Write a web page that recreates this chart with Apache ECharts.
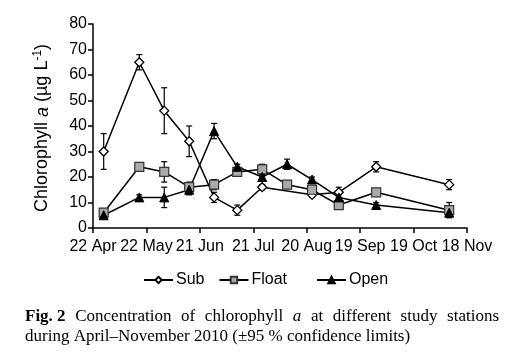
<!DOCTYPE html>
<html><head><meta charset="utf-8">
<script src="https://cdn.jsdelivr.net/npm/echarts@6/dist/echarts.min.js"></script>
<style>html,body{margin:0;padding:0;background:#fff}#c{width:516px;height:363px}</style>
</head><body><div id="c"></div>
<script>
// Days since 22 Apr 2010
const sampleDays = [6, 26, 40, 54, 68, 81, 95, 109, 123, 138, 159, 200];
const tickLabels = ['22 Apr','22 May','21 Jun','21 Jul','20 Aug','19 Sep','19 Oct','18 Nov'];
const subValues   = [30, 65, 46, 34, 12, 7, 16, null, 13, 14, 24, 17];
const subErr      = [7, 3, 9, 6, 2, 2, 1, null, 1, 2, 2, 2];
const floatValues = [6, 24, 22, 16, 17, 22, 23, 17, 15, 9, 14, 7];
const floatErr    = [1, 1, 4, 2, 2, 1, 2, 1, 1, 1, 1, 3];
const openValues  = [5, 12, 12, 15, 38, 24, 20, 25, 19, 12, 9, 6];
const openErr     = [1, 1, 4, 2, 3, 1, 1, 2, 1, 1, 1, 1];

const chart = echarts.init(document.getElementById('c'));
const FONT = '"Liberation Sans", Arial, sans-serif';

function pts(vals){ return sampleDays.map((d,i)=>[d, vals[i]]); }
function errData(vals, errs){
  const out=[];
  sampleDays.forEach((d,i)=>{ if(vals[i]!=null && errs[i]!=null) out.push([d, vals[i]-errs[i], vals[i]+errs[i]]); });
  return out;
}
function errSeries(vals, errs){
  return {
    type:'custom', silent:true, z:1,
    data: errData(vals, errs),
    renderItem(params, api){
      const x=api.value(0);
      const lo=api.coord([x, api.value(1)]);
      const hi=api.coord([x, api.value(2)]);
      const w=3;
      return {type:'group', children:[
        {type:'line', shape:{x1:lo[0],y1:lo[1],x2:hi[0],y2:hi[1]}, style:{stroke:'#000',lineWidth:1.2}},
        {type:'line', shape:{x1:lo[0]-w,y1:lo[1],x2:lo[0]+w,y2:lo[1]}, style:{stroke:'#000',lineWidth:1.2}},
        {type:'line', shape:{x1:hi[0]-w,y1:hi[1],x2:hi[0]+w,y2:hi[1]}, style:{stroke:'#000',lineWidth:1.2}}
      ]};
    }
  };
}

// justified caption
const cv=document.createElement('canvas').getContext('2d');
function measure(t,font){cv.font=font;return cv.measureText(t).width;}
const CAP_SIZE=17;
const serif='"Liberation Serif", "Times New Roman", serif';
const fReg=CAP_SIZE+'px '+serif, fBold='bold '+CAP_SIZE+'px '+serif, fIt='italic '+CAP_SIZE+'px '+serif;
const line1=[['Fig. 2',fBold],['Concentration',fReg],['of',fReg],['chlorophyll',fReg],['a',fIt],['at',fReg],['different',fReg],['study',fReg],['stations',fReg]];
const L1x0=25, L1x1=499;
const widths=line1.map(w=>measure(w[0],w[1]));
const total=widths.reduce((a,b)=>a+b,0);
const gap=(L1x1-L1x0-total)/(line1.length-1);
const graphics=[];
let cx=L1x0;
line1.forEach((w,i)=>{
  graphics.push({type:'text', x:cx, y:317, style:{text:w[0], font:w[1], fill:'#000', verticalAlign:'middle', align:'left'}});
  cx+=widths[i]+gap;
});
graphics.push({type:'text', x:25, y:337, style:{text:'during April\u2013November 2010 (\u00b195 % confidence limits)', font:fReg, fill:'#000', verticalAlign:'middle', align:'left'}});

const lineStyle={color:'#000', width:1.5};
const legText={fontFamily:FONT, fontSize:16, color:'#000', padding:[0,0,0,-2]};
chart.setOption({
  animation:false,
  backgroundColor:'#fff',
  grid:{left:93, right:49, top:24, bottom:135},
  legend:[
    {left:138, top:267, itemWidth:29, itemHeight:8, itemGap:14, data:['Sub','Float'], textStyle:legText},
    {left:311, top:267, itemWidth:29, itemHeight:8, data:['Open'], textStyle:legText}
  ],
  xAxis:{
    type:'value', min:0, max:210, interval:30,
    axisLine:{lineStyle:{color:'#000', width:1.5}},
    axisTick:{show:true, inside:false, length:5, lineStyle:{color:'#000', width:1.5}},
    splitLine:{show:false},
    axisLabel:{color:'#000', fontFamily:FONT, fontSize:16, margin:11,
      formatter:(v)=>tickLabels[Math.round(v/30)]}
  },
  yAxis:{
    type:'value', min:0, max:80, interval:10,
    axisLine:{show:true, lineStyle:{color:'#000', width:1.5}},
    axisTick:{show:true, inside:false, length:5, lineStyle:{color:'#000', width:1.5}},
    splitLine:{show:false},
    axisLabel:{color:'#000', fontFamily:FONT, fontSize:16, margin:6},
    name:'Chlorophyll {i|a} (µg L{sup|-1})',
    nameLocation:'middle', nameRotate:90, nameGap:40,
    nameTextStyle:{color:'#000', fontFamily:FONT, fontSize:18, padding:[0,4,0,0],
      rich:{i:{fontStyle:'italic', fontFamily:FONT, fontSize:18, color:'#000'},
            sup:{fontSize:12, fontFamily:FONT, color:'#000', padding:[0,0,9,0]}}}
  },
  graphic:graphics,
  series:[
    errSeries(subValues, subErr),
    errSeries(floatValues, floatErr),
    errSeries(openValues, openErr),
    {name:'Sub', type:'line', data:pts(subValues), connectNulls:true, z:3,
     symbol:'diamond', symbolSize:9, lineStyle:lineStyle,
     itemStyle:{color:'#fff', borderColor:'#000', borderWidth:1.3}},
    {name:'Float', type:'line', data:pts(floatValues), z:3,
     symbol:'rect', symbolSize:9, lineStyle:lineStyle,
     itemStyle:{color:'#aaaaaa', borderColor:'#333', borderWidth:1.2}},
    {name:'Open', type:'line', data:pts(openValues), z:3,
     symbol:'triangle', symbolSize:9, lineStyle:lineStyle,
     itemStyle:{color:'#000', borderColor:'#000', borderWidth:1}}
  ]
});
</script></body></html>
